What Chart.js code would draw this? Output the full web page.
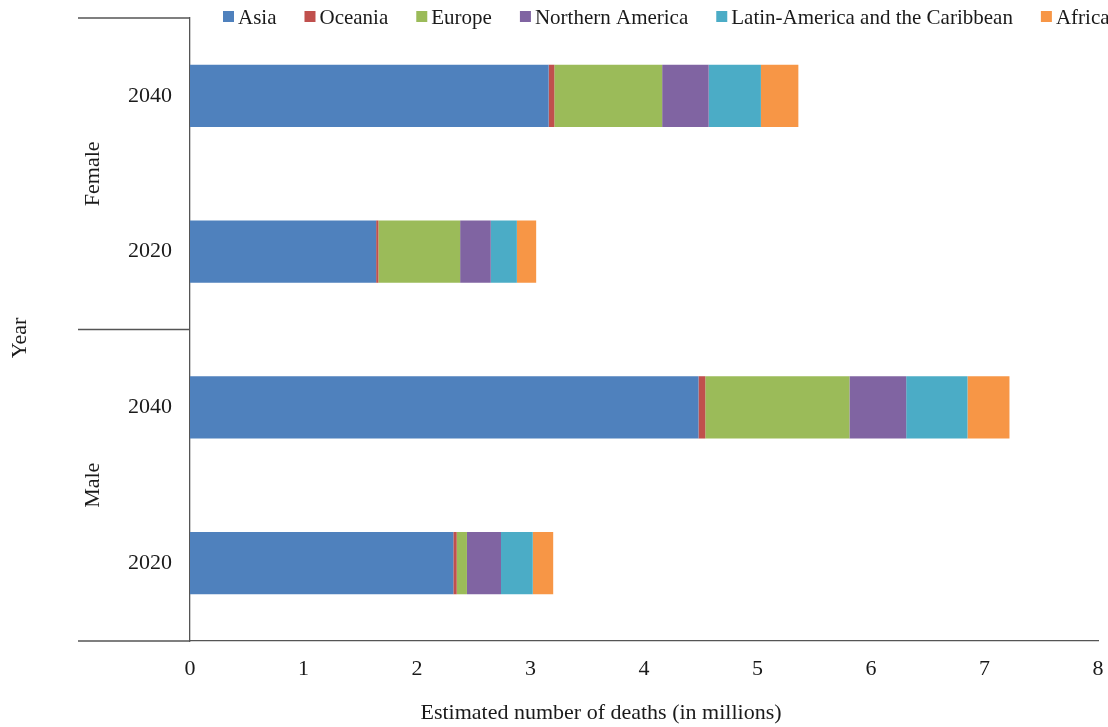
<!DOCTYPE html>
<html>
<head>
<meta charset="utf-8">
<script src="https://cdn.jsdelivr.net/npm/chart.js@4.4.1/dist/chart.umd.min.js"></script>
<style>
  body { margin: 0; background: #fff; }
  #wrap { width: 1108px; height: 727px; }
</style>
</head>
<body>
<div id="wrap"><canvas id="chart" width="1108" height="727"></canvas></div>
<script>
// rows top to bottom: Female 2040, Female 2020, Male 2040, Male 2020
var yearLabels = ["2040", "2020", "2040", "2020"];
var sexGroups = ["Female", "Male"];

var regionNames = ["Asia", "Oceania", "Europe", "Northern America", "Latin-America and the Caribbean", "Africa"];
var regionColors = ["#4F81BD", "#C0504D", "#9BBB59", "#8064A2", "#4BACC6", "#F79646"];

// estimated deaths, millions
var asia     = [3.16, 1.64, 4.48, 2.32];
var oceania  = [0.05, 0.02, 0.06, 0.03];
var europe   = [0.95, 0.72, 1.27, 0.09];
var nAmerica = [0.41, 0.27, 0.50, 0.30];
var latinAm  = [0.46, 0.23, 0.54, 0.28];
var africa   = [0.33, 0.17, 0.37, 0.18];

var xTicks = [0, 1, 2, 3, 4, 5, 6, 7, 8];
var xTitle = "Estimated number of deaths (in millions)";
var yTitle = "Year";

var serif = "'Liberation Serif', 'Times New Roman', serif";
var txtColor = "#1a1a1a";
var axisColor = "#555555";

var seriesData = [asia, oceania, europe, nAmerica, latinAm, africa];
var datasets = [];
for (let i = 0; i < regionNames.length; i++) {
    datasets.push({
        label: regionNames[i],
        data: seriesData[i],
        backgroundColor: regionColors[i],
        borderWidth: 0,
        barPercentage: 0.4,
        categoryPercentage: 1.0
    });
}

function noPad(scale) {
    scale.paddingTop = 0;
    scale.paddingBottom = 0;
    scale.paddingLeft = 0;
    scale.paddingRight = 0;
}

// legend, group labels, separator lines and axis titles
var decorations = {
    id: "decorations",
    afterDraw: function(chart) {
        let c = chart.ctx;
        let area = chart.chartArea;
        let yScale = chart.scales.y;

        // legend across the top
        c.save();
        c.font = "21px " + serif;
        c.textBaseline = "middle";
        c.fillStyle = txtColor;
        let lx = 223, ly = 17;
        chart.data.datasets.forEach(function(ds) {
            c.fillStyle = ds.backgroundColor;
            c.fillRect(lx, ly - 6, 11, 11);
            c.fillStyle = txtColor;
            c.fillText(ds.label, lx + 15, ly + 1);
            lx += 15 + c.measureText(ds.label).width + 28;
        });
        c.restore();

        // group separators on the left
        let mid = (yScale.getPixelForValue(1) + yScale.getPixelForValue(2)) / 2;
        c.save();
        c.strokeStyle = axisColor;
        c.lineWidth = 1.3;
        c.beginPath();
        [area.top, mid, area.bottom].forEach(function(y) {
            c.moveTo(78, y);
            c.lineTo(area.left, y);
        });
        c.stroke();
        c.restore();

        // Female / Male
        c.save();
        c.font = "22px " + serif;
        c.fillStyle = txtColor;
        c.textAlign = "center";
        c.textBaseline = "middle";
        let spans = [[area.top, mid], [mid, area.bottom]];
        for (let i = 0; i < sexGroups.length; i++) {
            c.save();
            c.translate(93, (spans[i][0] + spans[i][1]) / 2);
            c.rotate(-Math.PI / 2);
            c.fillText(sexGroups[i], 0, 0);
            c.restore();
        }
        // axis titles
        c.save();
        c.translate(20, 338);
        c.rotate(-Math.PI / 2);
        c.fillText(yTitle, 0, 0);
        c.restore();
        c.fillText(xTitle, 601, 713);
        c.restore();
    }
};

var config = {
    type: "bar",
    data: { labels: yearLabels, datasets: datasets },
    options: {
        indexAxis: "y",
        responsive: false,
        animation: false,
        layout: { padding: { top: 18, right: 10, left: 0, bottom: 0 } },
        plugins: {
            legend: { display: false },
            tooltip: { enabled: false }
        },
        scales: {
            x: {
                stacked: true,
                min: xTicks[0],
                max: xTicks[xTicks.length - 1],
                afterBuildTicks: function(scale) {
                    scale.ticks = xTicks.map(function(v) { return { value: v }; });
                },
                afterFit: function(scale) { scale.height = 86; noPad(scale); },
                grid: { display: false, drawTicks: false },
                border: { display: true, color: axisColor, width: 1.3 },
                ticks: { padding: 15, color: txtColor, font: { family: serif, size: 22 } }
            },
            y: {
                stacked: true,
                afterFit: function(scale) { scale.width = 190; noPad(scale); },
                grid: { display: false, drawTicks: false },
                border: { display: true, color: axisColor, width: 1.3 },
                ticks: { padding: 18, color: txtColor, font: { family: serif, size: 22 } }
            }
        }
    },
    plugins: [decorations]
};

var ctx = document.getElementById("chart").getContext("2d");
var myChart = new Chart(ctx, config);
</script>
</body>
</html>
